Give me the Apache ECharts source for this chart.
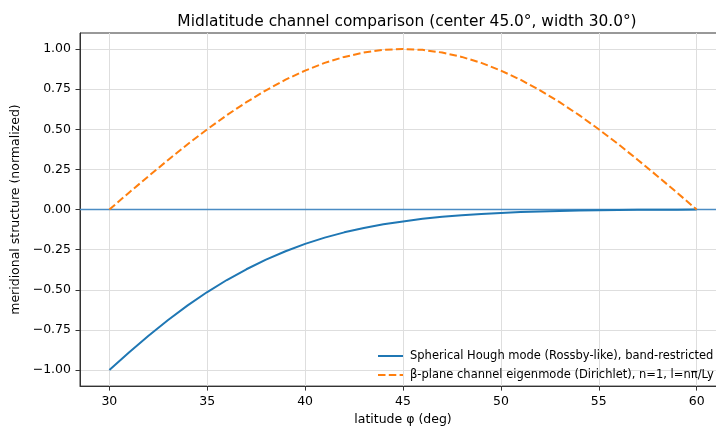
<!DOCTYPE html>
<html><head><meta charset="utf-8">
<script src="https://cdn.jsdelivr.net/npm/echarts@6/dist/echarts.min.js"></script>
<style>html,body{margin:0;padding:0;background:#fff;overflow:hidden;width:716px;height:431px}#c{width:726px;height:431px}</style>
</head><body><div id="c"></div>
<script>
const latitude = [30,31,32,33,34,35,36,37,38,39,40,41,42,43,44,45,46,47,48,49,50,51,52,53,54,55,56,57,58,59,60];
const houghMode = [-1.000,-0.890,-0.786,-0.688,-0.597,-0.514,-0.439,-0.372,-0.312,-0.260,-0.214,-0.175,-0.142,-0.115,-0.092,-0.074,-0.058,-0.045,-0.035,-0.027,-0.021,-0.016,-0.012,-0.009,-0.006,-0.0045,-0.003,-0.002,-0.0015,-0.001,0.000];
const betaMode = [0,0.105,0.208,0.309,0.407,0.500,0.588,0.669,0.743,0.809,0.866,0.914,0.951,0.978,0.995,1.000,0.995,0.978,0.951,0.914,0.866,0.809,0.743,0.669,0.588,0.500,0.407,0.309,0.208,0.105,0];
const xTicks = [30,35,40,45,50,55,60];
const yTicks = [-1,-0.75,-0.5,-0.25,0,0.25,0.5,0.75,1];
const zeroLine = 0;
const seriesNames = ['Spherical Hough mode (Rossby-like), band-restricted','β-plane channel eigenmode (Dirichlet), n=1, l=nπ/Ly'];
const titleText = 'Midlatitude channel comparison (center 45.0°, width 30.0°)';

const FONT = 'DejaVu Sans';
const chart = echarts.init(document.getElementById('c'), null, {renderer:'canvas'});
const pair = (xs, ys) => xs.map((x,i)=>[x, ys[i]]);
chart.setOption({
  animation:false,
  textStyle:{fontFamily:FONT},
  title:{text:titleText,left:402,textAlign:'center',top:9,textStyle:{fontFamily:FONT,fontSize:15.4,fontWeight:'normal',color:'#000'}},
  grid:{left:80,top:33,right:0,bottom:42,show:true,borderColor:'#333',borderWidth:1,backgroundColor:'transparent'},
  legend:{orient:'vertical',left:372,top:345,itemWidth:25,itemHeight:12,itemGap:7,
    itemStyle:{opacity:0},
    textStyle:{fontFamily:FONT,fontSize:11.5,color:'#000',padding:[0,0,0,2]},data:seriesNames},
  xAxis:{type:'value',min:28.5,max:61.5,
    name:'latitude φ (deg)',nameLocation:'middle',nameGap:26,nameTextStyle:{fontFamily:FONT,fontSize:12.5,color:'#000'},
    axisLine:{show:true,onZero:false,lineStyle:{color:'#333',width:1}},
    axisTick:{show:true,length:4.5,customValues:xTicks,lineStyle:{color:'#333'}},
    axisLabel:{customValues:xTicks,margin:9,fontFamily:FONT,fontSize:12.5,color:'#000',formatter:v=>String(v)},
    splitLine:{show:true,lineStyle:{color:'#dedede',width:1}}},
  yAxis:{type:'value',min:-1.1,max:1.1,
    name:'meridional structure (normalized)',nameLocation:'middle',nameGap:50,nameTextStyle:{fontFamily:FONT,fontSize:12.5,color:'#000'},
    axisLine:{show:true,onZero:false,lineStyle:{color:'#333',width:1}},
    axisTick:{show:true,length:4.5,customValues:yTicks,lineStyle:{color:'#333'}},
    axisLabel:{customValues:yTicks,margin:9,fontFamily:FONT,fontSize:12.5,color:'#000',
      formatter:v=>(v<-1e-9?'\u2212':'')+Math.abs(v).toFixed(2)},
    splitLine:{show:true,lineStyle:{color:'#dedede',width:1}}},
  series:[
    {name:seriesNames[0],type:'line',data:pair(latitude,houghMode),symbol:'none',smooth:false,
      lineStyle:{color:'#1f77b4',width:2},itemStyle:{color:'#1f77b4'},z:5,
      markLine:{silent:true,symbol:['none','none'],label:{show:false},
        emphasis:{disabled:true},
        lineStyle:{color:'#4a8cc4',width:1.4,type:'solid',opacity:1},
        data:[{yAxis:zeroLine, lineStyle:{color:'#4a8cc4',width:1.4}}]}},
    {name:seriesNames[1],type:'line',data:pair(latitude,betaMode),symbol:'none',smooth:false,
      lineStyle:{color:'#ff7f0e',width:2,type:[7.5,3.3]},itemStyle:{color:'#ff7f0e'},z:5}
  ]
});
</script></body></html>
